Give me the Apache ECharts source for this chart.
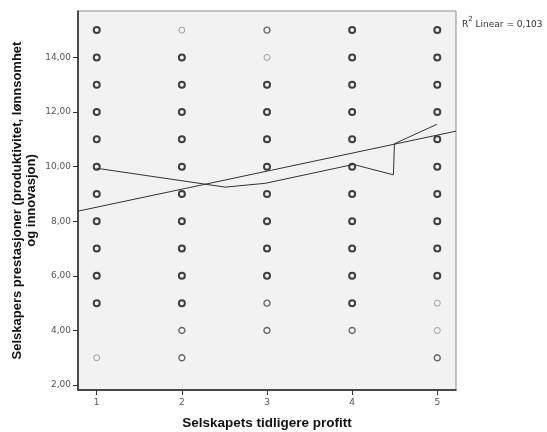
<!DOCTYPE html>
<html>
<head>
<meta charset="utf-8">
<script src="https://cdn.jsdelivr.net/npm/echarts@6/dist/echarts.min.js"></script>
<style>
  html, body { margin: 0; padding: 0; background: #ffffff; }
  #chart { width: 547px; height: 432px; }
</style>
</head>
<body>
<div id="chart"></div>
<script>
// Observed (x, y) combinations, grouped by how many cases overlap at each spot
const denseObs = [
  [1,15],[1,14],[1,13],[1,12],[1,11],[1,10],[1,9],[1,8],[1,7],[1,6],[1,5],
  [2,14],[2,13],[2,12],[2,11],[2,10],[2,9],[2,8],[2,7],[2,6],[2,5],
  [3,13],[3,12],[3,11],[3,10],[3,9],[3,8],[3,7],[3,6],
  [4,15],[4,14],[4,13],[4,12],[4,11],[4,10],[4,9],[4,8],[4,7],[4,6],[4,5],
  [5,15],[5,14],[5,13],[5,12],[5,11],[5,10],[5,9],[5,8],[5,7],[5,6]
];
const pairObs = [
  [2,4],[2,3],
  [3,15],[3,5],[3,4],
  [4,4],
  [5,3]
];
const singleObs = [
  [1,3],
  [2,15],
  [3,14],
  [5,5],[5,4]
];

// Linear fit line (end points at the plot edges)
const fitX = [0.78, 5.22];
const fitY = [8.37, 11.30];

// Local smoother line
const smoothX = [1, 2.51, 2.98, 4.015, 4.485, 4.497, 4.995];
const smoothY = [9.94, 9.25, 9.39, 10.08, 9.70, 10.84, 11.55];

// Axis ticks
const xTicks = [1, 2, 3, 4, 5];
const yTicks = [2, 4, 6, 8, 10, 12, 14];

const rSquared = '0,103';

const zip = (xs, ys) => xs.map((x, i) => [x, ys[i]]);
const fmtY = v => v.toFixed(2).replace('.', ',');

const chart = echarts.init(document.getElementById('chart'), null, { renderer: 'canvas' });

const ringSeries = (name, data, color, width) => ({
  name: name,
  type: 'scatter',
  data: data,
  symbol: 'circle',
  symbolSize: 6,
  itemStyle: { color: 'rgba(0,0,0,0)', borderColor: color, borderWidth: width },
  emphasis: { disabled: true },
  z: 3
});

chart.setOption({
  animation: false,
  textStyle: { fontFamily: 'DejaVu Sans' },
  grid: {
    left: 78, top: 11, right: 91, bottom: 42,
    outerBoundsMode: 'none',
    containLabel: false,
    show: true,
    backgroundColor: '#f2f2f2',
    borderColor: '#8c8c8c',
    borderWidth: 1
  },
  title: {
    left: 457, top: 11,
    text: '{r|R}{s|2}{r| Linear = ' + rSquared + '}',
    textStyle: {
      fontWeight: 'normal',
      rich: {
        r: { fontFamily: 'DejaVu Sans', fontWeight: 'normal', fontSize: 9, color: '#333333', verticalAlign: 'bottom', lineHeight: 13 },
        s: { fontFamily: 'DejaVu Sans', fontWeight: 'normal', fontSize: 7, color: '#333333', verticalAlign: 'top', lineHeight: 13, padding: [0, 0, 5, 0] }
      }
    }
  },
  xAxis: {
    type: 'value',
    min: 0.78, max: 5.22,
    splitLine: { show: false },
    axisLine: { show: true, onZero: false, lineStyle: { color: '#222222', width: 1.5 } },
    axisTick: { show: true, customValues: xTicks, length: 5, lineStyle: { color: '#333333' } },
    axisLabel: { customValues: xTicks, fontSize: 9, color: '#555555', margin: 8, fontFamily: 'DejaVu Sans' },
    name: 'Selskapets tidligere profitt',
    nameLocation: 'middle',
    nameGap: 26,
    nameMoveOverlap: false,
    nameTextStyle: { fontFamily: 'Liberation Sans', fontWeight: 'bold', fontSize: 13.5, color: '#111111' }
  },
  yAxis: {
    type: 'value',
    min: 1.82, max: 15.7,
    splitLine: { show: false },
    axisLine: { show: true, onZero: false, lineStyle: { color: '#222222', width: 1.5 } },
    axisTick: { show: true, customValues: yTicks, length: 5, lineStyle: { color: '#333333' } },
    axisLabel: { customValues: yTicks, fontSize: 9, color: '#555555', margin: 7, formatter: fmtY, fontFamily: 'DejaVu Sans' },
    name: 'Selskapers prestasjoner (produktivitet, lønnsomhet\nog innovasjon)',
    nameLocation: 'middle',
    nameRotate: 90,
    nameGap: 40,
    nameMoveOverlap: false,
    nameTextStyle: { fontFamily: 'Liberation Sans', fontWeight: 'bold', fontSize: 13, color: '#111111', lineHeight: 13.5, align: 'center' }
  },
  series: [
    ringSeries('single', singleObs, '#8a8a8a', 1),
    ringSeries('pair', pairObs, '#444444', 1.4),
    ringSeries('dense', denseObs, '#111111', 2),
    {
      name: 'linear',
      type: 'line',
      data: zip(fitX, fitY),
      symbol: 'none',
      lineStyle: { color: '#333333', width: 1 },
      z: 4
    },
    {
      name: 'smooth',
      type: 'line',
      data: zip(smoothX, smoothY),
      symbol: 'none',
      lineStyle: { color: '#333333', width: 1 },
      z: 4
    }
  ]
});
</script>
</body>
</html>
